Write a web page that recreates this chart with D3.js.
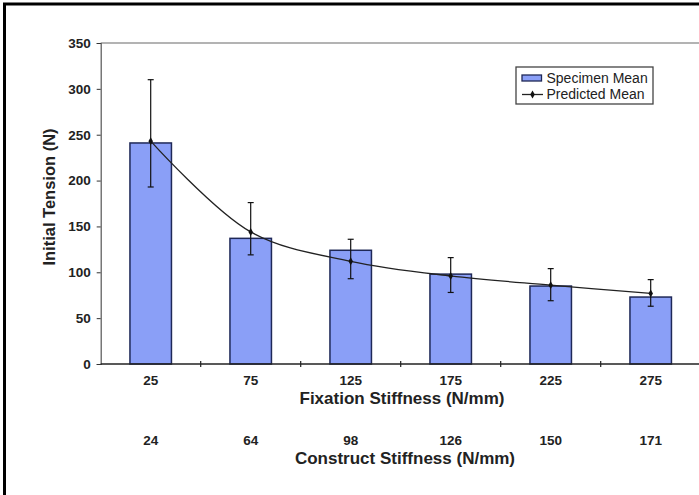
<!DOCTYPE html>
<html><head><meta charset="utf-8">
<script src="https://cdn.jsdelivr.net/npm/d3@7"></script>
<style>body{margin:0;background:#fff}svg{display:block}</style>
</head><body>
<script>
const fixation = ["25","75","125","175","225","275"];
const construct = ["24","64","98","126","150","171"];
const specimenMean = [241, 137, 124, 98, 85, 73];
const errUpper = [310, 176, 136, 116, 104, 92];
const errLower = [193, 119, 93, 78, 69, 63];
const predictedMean = [243, 144, 112, 96, 86, 77];
const yTicks = [0,50,100,150,200,250,300,350];

const W = 699, H = 495;
const svg = d3.select("body").append("svg").attr("width", W).attr("height", H);
const font = "Liberation Sans, Arial, sans-serif";

const x = d3.scaleBand().domain(fixation).range([100.7, 700.7]).paddingInner(0.585).paddingOuter(0.2925);
const y = d3.scaleLinear().domain([0, 350]).range([364, 43]);

// outer frame
svg.append("rect").attr("x", 4.5).attr("y", 4).attr("width", 900).attr("height", 900)
  .attr("fill", "none").attr("stroke", "#000").attr("stroke-width", 3);

// plot top border
svg.append("line").attr("x1", 100.7).attr("x2", 699).attr("y1", y(350)).attr("y2", y(350))
  .attr("stroke", "#9a9a9a").attr("stroke-width", 1.5);

// bars
svg.append("g").selectAll("rect").data(specimenMean).join("rect")
  .attr("x", (d,i) => x(fixation[i]))
  .attr("y", d => y(d))
  .attr("width", x.bandwidth())
  .attr("height", d => y(0) - y(d))
  .attr("fill", "#8a9ff7").attr("stroke", "#1f2857").attr("stroke-width", 1.5);

// y axis
const yAxis = d3.axisLeft(y).tickValues(yTicks).tickSize(4).tickPadding(6);
const gy = svg.append("g").attr("transform", "translate(100.7,0)").call(yAxis);
gy.select(".domain").attr("stroke", "#555").attr("stroke-width", 1.2);
gy.selectAll(".tick line").attr("stroke", "#333");
gy.selectAll("text").attr("font-family", font).attr("font-weight", "bold").attr("font-size", "13.5px").attr("fill", "#222");

// x axis baseline with boundary ticks
const xb = svg.append("g");
xb.append("line").attr("x1", 100.7).attr("x2", 699).attr("y1", y(0)).attr("y2", y(0))
  .attr("stroke", "#222").attr("stroke-width", 1.3);
const bounds = fixation.map(f => x(f) - x.step()*x.paddingInner()/2 - (x.step()-x.bandwidth())/2 + x.step()*x.paddingInner()/2);
xb.selectAll("line.tk").data(fixation.slice(1)).join("line").attr("class","tk")
  .attr("x1", f => x(f) + x.bandwidth()/2 - x.step()/2).attr("x2", f => x(f) + x.bandwidth()/2 - x.step()/2)
  .attr("y1", y(0) - 3).attr("y2", y(0) + 3).attr("stroke", "#222").attr("stroke-width", 1.2);

// x tick labels
const cx = f => x(f) + x.bandwidth()/2;
svg.append("g").selectAll("text").data(fixation).join("text")
  .attr("x", d => cx(d)).attr("y", 385).attr("text-anchor", "middle")
  .attr("font-family", font).attr("font-weight", "bold").attr("font-size", "13.5px").attr("fill", "#222")
  .text(d => d);
svg.append("g").selectAll("text").data(construct).join("text")
  .attr("x", (d,i) => cx(fixation[i])).attr("y", 445).attr("text-anchor", "middle")
  .attr("font-family", font).attr("font-weight", "bold").attr("font-size", "13.5px").attr("fill", "#222")
  .text(d => d);

// axis titles
svg.append("text").attr("x", 402).attr("y", 404).attr("text-anchor", "middle")
  .attr("font-family", font).attr("font-weight", "bold").attr("font-size", "17px").attr("fill", "#222")
  .text("Fixation Stiffness (N/mm)");
svg.append("text").attr("x", 405).attr("y", 464).attr("text-anchor", "middle")
  .attr("font-family", font).attr("font-weight", "bold").attr("font-size", "17px").attr("fill", "#222")
  .text("Construct Stiffness (N/mm)");
svg.append("text").attr("transform", "translate(55,197) rotate(-90)").attr("text-anchor", "middle")
  .attr("font-family", font).attr("font-weight", "bold").attr("font-size", "16.5px").attr("fill", "#222")
  .text("Initial Tension (N)");

// error bars
const eb = svg.append("g").attr("stroke", "#111").attr("stroke-width", 1.2);
fixation.forEach((f,i) => {
  const c = cx(f);
  eb.append("line").attr("x1", c).attr("x2", c).attr("y1", y(errUpper[i])).attr("y2", y(errLower[i]));
  eb.append("line").attr("x1", c-3).attr("x2", c+3).attr("y1", y(errUpper[i])).attr("y2", y(errUpper[i]));
  eb.append("line").attr("x1", c-3).attr("x2", c+3).attr("y1", y(errLower[i])).attr("y2", y(errLower[i]));
});

// predicted line
const line = d3.line().x((d,i) => cx(fixation[i])).y(d => y(d)).curve(d3.curveCatmullRom.alpha(0.5));
svg.append("path").datum(predictedMean).attr("d", line).attr("fill", "none")
  .attr("stroke", "#222").attr("stroke-width", 1.3);
svg.append("g").selectAll("path").data(predictedMean).join("path")
  .attr("transform", (d,i) => `translate(${cx(fixation[i])},${y(d)})`)
  .attr("d", d3.symbol(d3.symbolDiamond, 18)).attr("fill", "#111");

// legend
const lg = svg.append("g");
lg.append("rect").attr("x", 516).attr("y", 67).attr("width", 137).attr("height", 37)
  .attr("fill", "#fff").attr("stroke", "#444").attr("stroke-width", 1.3);
lg.append("rect").attr("x", 522).attr("y", 75).attr("width", 19.5).attr("height", 6)
  .attr("fill", "#8a9ff7").attr("stroke", "#1f2857").attr("stroke-width", 1.3);
lg.append("line").attr("x1", 522).attr("x2", 543).attr("y1", 94.5).attr("y2", 94.5)
  .attr("stroke", "#222").attr("stroke-width", 1.3);
lg.append("path").attr("transform", "translate(532.5,94.5)").attr("d", d3.symbol(d3.symbolDiamond, 18)).attr("fill", "#111");
lg.append("text").attr("x", 546.5).attr("y", 83.3).attr("font-family", font).attr("font-size", "14px").attr("fill", "#222").text("Specimen Mean");
lg.append("text").attr("x", 546.5).attr("y", 98.5).attr("font-family", font).attr("font-size", "14px").attr("fill", "#222").text("Predicted Mean");
</script>
</body></html>
